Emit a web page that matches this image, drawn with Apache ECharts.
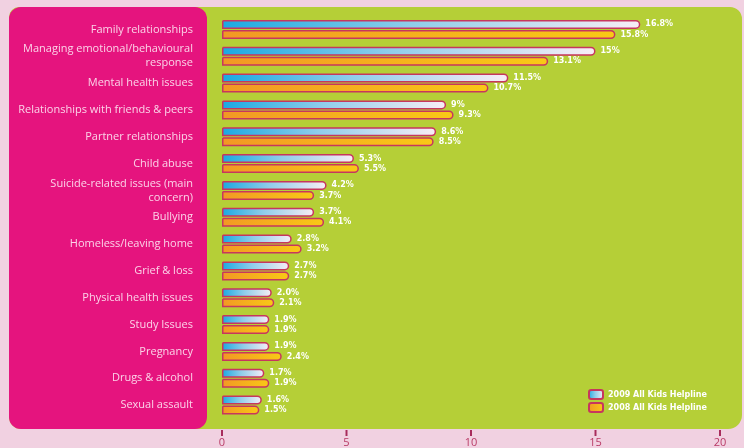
<!DOCTYPE html>
<html><head><meta charset="utf-8">
<script src="https://cdn.jsdelivr.net/npm/echarts@6/dist/echarts.min.js"></script>
<style>html,body{margin:0;padding:0;background:#f1d1e1;}#c{width:744px;height:448px;}</style>
</head><body><div id="c"></div>
<script>
const categories = [
  'Family relationships',
  'Managing emotional/behavioural\nresponse',
  'Mental health issues',
  'Relationships with friends & peers',
  'Partner relationships',
  'Child abuse',
  'Suicide-related issues (main\nconcern)',
  'Bullying',
  'Homeless/leaving home',
  'Grief & loss',
  'Physical health issues',
  'Study Issues',
  'Pregnancy',
  'Drugs & alcohol',
  'Sexual assault'
];
const values2009 = [16.8, 15, 11.5, 9, 8.6, 5.3, 4.2, 3.7, 2.8, 2.7, 2.0, 1.9, 1.9, 1.7, 1.6];
const values2008 = [15.8, 13.1, 10.7, 9.3, 8.5, 5.5, 3.7, 4.1, 3.2, 2.7, 2.1, 1.9, 2.4, 1.9, 1.5];
const labels2009 = ['16.8%','15%','11.5%','9%','8.6%','5.3%','4.2%','3.7%','2.8%','2.7%','2.0%','1.9%','1.9%','1.7%','1.6%'];
const labels2008 = ['15.8%','13.1%','10.7%','9.3%','8.5%','5.5%','3.7%','4.1%','3.2%','2.7%','2.1%','1.9%','2.4%','1.9%','1.5%'];
const seriesNames = ['2009 All Kids Helpline', '2008 All Kids Helpline'];
const xTicks = [0, 5, 10, 15, 20];

const chart = echarts.init(document.getElementById('c'), null, {renderer: 'canvas'});
const grad2009 = new echarts.graphic.LinearGradient(0, 0, 1, 0, [
  {offset: 0, color: '#1aa9e2'}, {offset: 0.45, color: '#8fcdea'}, {offset: 1, color: '#f8eef6'}]);
const grad2008 = new echarts.graphic.LinearGradient(0, 0, 1, 0, [
  {offset: 0, color: '#f29824'}, {offset: 1, color: '#f9c916'}]);
const lblStyle = {show: true, position: 'right', distance: 5, color: '#ffffff', fontSize: 8, fontWeight: 'bold', fontFamily: 'DejaVu Sans'};

chart.setOption({
  animation: false,
  backgroundColor: '#f1d1e1',
  graphic: [
    {type: 'rect', z: -10, shape: {x: 9, y: 7, width: 733, height: 422, r: [10, 12, 14, 12]}, style: {fill: '#b5cf37'}},
    {type: 'rect', z: -9, shape: {x: 9, y: 7, width: 198, height: 422, r: 12}, style: {fill: '#e5147e'}}
  ],
  grid: {left: 222, right: 24, top: 16, bottom: 27, containLabel: false},
  legend: {
    orient: 'vertical', left: 583, top: 384, itemWidth: 14, itemHeight: 9, itemGap: 2,
    icon: 'roundRect',
    textStyle: {color: '#ffffff', fontSize: 8, fontWeight: 'bold', fontFamily: 'DejaVu Sans'},
    data: seriesNames
  },
  xAxis: {
    type: 'value', min: 0, max: 20, interval: 5, offset: 10,
    axisLine: {show: false},
    axisTick: {show: false},
    axisLabel: {
      color: '#b83a66', fontSize: 11, margin: 1, fontFamily: 'Open Sans',
      formatter: v => '{t| }\n{v|' + v + '}',
      rich: {
        t: {width: 2, height: 6, lineHeight: 7, fontSize: 1, backgroundColor: '#a82c5c'},
        v: {fontSize: 11, lineHeight: 12, color: '#b83a66', fontFamily: 'Open Sans'}
      }
    },
    splitLine: {show: false}
  },
  yAxis: {
    type: 'category', data: categories, inverse: true,
    axisLine: {show: false}, axisTick: {show: false},
    axisLabel: {color: '#fbd3e8', fontSize: 11, margin: 29, lineHeight: 14, align: 'right', fontFamily: 'Open Sans'}
  },
  series: [
    {name: seriesNames[0], type: 'bar', data: values2009, barWidth: 9, barGap: '12%',
      itemStyle: {color: grad2009, borderColor: '#c7365e', borderWidth: 1.5, borderRadius: [0, 5, 5, 0]},
      label: Object.assign({formatter: p => labels2009[p.dataIndex]}, lblStyle)},
    {name: seriesNames[1], type: 'bar', data: values2008, barWidth: 9, barGap: '12%',
      itemStyle: {color: grad2008, borderColor: '#c7365e', borderWidth: 1.5, borderRadius: [0, 5, 5, 0]},
      label: Object.assign({formatter: p => labels2008[p.dataIndex]}, lblStyle)}
  ]
});
</script></body></html>
